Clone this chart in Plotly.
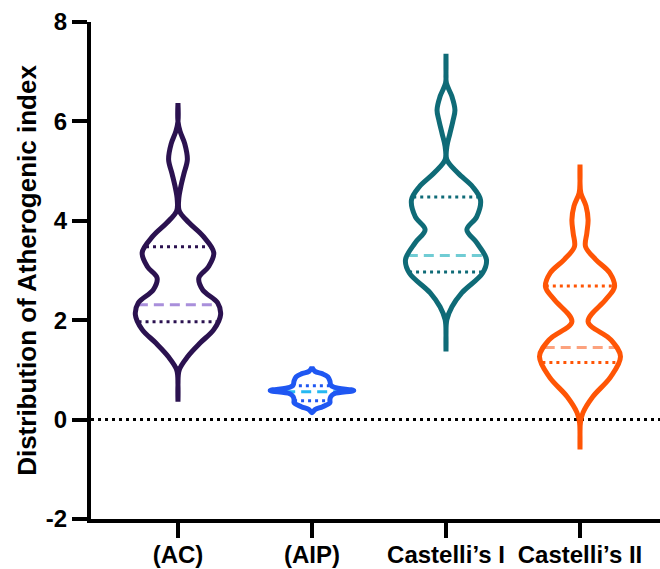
import numpy as np
import plotly.graph_objects as go

# ---------------- data ----------------
categories = ["(AC)", "(AIP)", "Castelli\u2019s I", "Castelli\u2019s II"]

# violin outline profiles: value levels and relative half-width (0..1)
ac_y = [0.36, 0.70, 1.00, 1.27, 1.55, 1.81, 2.11, 2.35, 2.61, 2.85, 3.08, 3.36,
        3.68, 3.96, 4.20, 4.45, 4.70, 4.95, 5.23, 5.55, 5.80, 6.00, 6.37]
ac_w = [0.00, 0.00, 0.03, 0.23, 0.53, 0.84, 1.00, 0.93, 0.58, 0.49, 0.72, 0.84,
        0.60, 0.26, 0.03, 0.02, 0.07, 0.14, 0.22, 0.16, 0.05, 0.00, 0.00]

aip_y = [0.14, 0.20, 0.26, 0.34, 0.40, 0.46, 0.52, 0.585, 0.65, 0.70, 0.78, 0.86,
         0.92, 0.97, 1.05]
aip_w = [0.00, 0.07, 0.25, 0.42, 0.42, 0.44, 0.52, 0.98, 0.52, 0.44, 0.42, 0.37,
         0.25, 0.07, 0.00]

c1_y = [1.37, 1.70, 2.01, 2.27, 2.55, 2.95, 3.22, 3.56, 3.82, 4.08, 4.42, 4.68,
        4.96, 5.23, 5.49, 5.75, 6.00, 6.23, 6.50, 6.77, 7.00, 7.36]
c1_w = [0.00, 0.00, 0.02, 0.14, 0.37, 0.86, 0.95, 0.72, 0.49, 0.72, 0.81, 0.63,
        0.28, 0.02, 0.02, 0.09, 0.16, 0.21, 0.14, 0.01, 0.00, 0.00]

c2_y = [-0.60, -0.30, -0.06, 0.14, 0.46, 0.86, 1.27, 1.61, 1.97, 2.41, 2.67,
        2.95, 3.22, 3.48, 3.75, 4.02, 4.30, 4.56, 4.80, 5.13]
c2_w = [0.00, 0.00, 0.01, 0.07, 0.30, 0.72, 0.95, 0.72, 0.19, 0.60, 0.81,
        0.70, 0.37, 0.13, 0.16, 0.19, 0.14, 0.02, 0.00, 0.00]

medians = [2.31, 0.56, 3.30, 1.45]
q1s = [1.97, 0.38, 2.97, 1.15]
q3s = [3.48, 0.68, 4.48, 2.69]

y_tick_vals = [-2, 0, 2, 4, 6, 8]
y_tick_text = ["-2", "0", "2", "4", "6", "8"]

# ---------------- style ----------------
outline_colors = ["#2b1250", "#1f57f2", "#0f6b77", "#ff5505"]
median_colors = ["#a98fdb", "#25b9f2", "#70ccd4", "#fca27e"]
max_hw = 0.318          # half-width (x units) of a relative width of 1
centers = [0, 1, 2, 3]

profiles = [(ac_y, ac_w), (aip_y, aip_w), (c1_y, c1_w), (c2_y, c2_w)]

fig = go.Figure()

for i, (py, pw) in enumerate(profiles):
    py = np.array(py, dtype=float)
    hw = np.array(pw, dtype=float) * max_hw
    c = centers[i]
    # quartile and median lines
    for val, col, dash in [(q1s[i], outline_colors[i], "3px,4px"),
                           (q3s[i], outline_colors[i], "3px,4px"),
                           (medians[i], median_colors[i], "10px,6px")]:
        h = np.interp(val, py, hw)
        if i == 1 and val == medians[i]:
            h = min(h, 0.2)
        fig.add_trace(go.Scatter(x=[c - h, c + h], y=[val, val], mode="lines",
                                 line=dict(color=col, width=3, dash=dash),
                                 hoverinfo="skip", showlegend=False))
    # outline: right side going up, left side coming down
    xs = list(c + hw) + list((c - hw)[::-1])
    ys = list(py) + list(py[::-1])
    fig.add_trace(go.Scatter(x=xs, y=ys, mode="lines",
                             line=dict(color=outline_colors[i], width=5,
                                       shape="spline", smoothing=1.0),
                             name=categories[i], showlegend=False))

fig.add_shape(type="line", xref="paper", yref="y", x0=0, x1=1, y0=0, y1=0,
              line=dict(color="black", width=3, dash="3px,4px"), layer="below")

font_tick = dict(family="Liberation Sans, Arial, sans-serif", size=24,
                 color="black", weight="bold")
font_title = dict(family="Liberation Sans, Arial, sans-serif", size=26,
                  color="black", weight="bold")

fig.update_layout(
    width=660, height=569,
    margin=dict(l=91, r=0, t=22, b=50),
    paper_bgcolor="white", plot_bgcolor="white",
    font=font_tick,
    xaxis=dict(range=[-0.649, 3.597], showgrid=False, zeroline=False,
               showline=True, linecolor="black", linewidth=4,
               ticks="outside", ticklen=15, tickwidth=4, tickcolor="black",
               tickvals=centers, ticktext=categories, tickangle=0,
               ticklabelstandoff=-4,
               tickfont=font_tick, automargin=False),
    yaxis=dict(range=[-2, 8], showgrid=False, zeroline=False,
               showline=True, linecolor="black", linewidth=4,
               ticks="outside", ticklen=15, tickwidth=4, tickcolor="black",
               tickvals=y_tick_vals, ticktext=y_tick_text,
               tickfont=font_tick, automargin=False,
               title=dict(text="Distribution of Atherogenic index",
                          font=font_title, standoff=3)),
)

fig.write_html("out.html")
